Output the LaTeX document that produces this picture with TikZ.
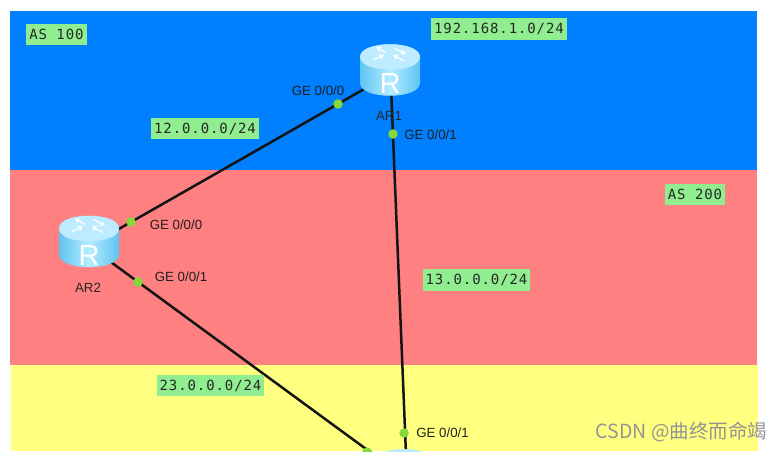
\documentclass[tikz,border=0pt]{standalone}
\usepackage{fontspec}
\setmainfont{Liberation Sans}
\newfontfamily\labelmono[LetterSpace=6.4]{DejaVu Sans Mono}
\newfontfamily\wmfont{Noto Sans CJK SC}
\usetikzlibrary{arrows.meta}
\definecolor{bandblue}{HTML}{0080FF}
\definecolor{bandred}{HTML}{FF8080}
\definecolor{bandyellow}{HTML}{FFFF80}
\definecolor{tagtgreen}{HTML}{90EE90}
\definecolor{portgreen}{HTML}{84D838}
\definecolor{routertop}{HTML}{BDEBFF}
\definecolor{routerdark}{HTML}{5FC4F2}
\definecolor{routerlight}{HTML}{B4ECFF}
\tikzset{
  x=1pt,y=-1pt,
  tag/.style={fill=tagtgreen,inner sep=0pt,font=\labelmono\fontsize{14}{14}\selectfont,text=black!85,anchor=center},
  portlabel/.style={inner sep=0pt,font=\fontsize{13.3}{14}\selectfont,text=black!88},
  hostname/.style={inner sep=0pt,font=\fontsize{13.3}{14}\selectfont,text=black!85},
  link/.style={line width=2.5pt,draw=black!92},
  portdot/.style={circle,fill=portgreen,inner sep=0pt,minimum size=9.5pt},
  hub/.style={inner sep=0pt,minimum size=0pt},
  chev/.style={draw=white,line width=1.3pt,-{Stealth[length=5pt,width=6pt]}},
  routerbody/.pic={
    \path[left color=routerdark,right color=routerdark,middle color=routerlight]
      (-30,-13) -- (-30,13) .. controls (-30,30) and (30,30) .. (30,13) -- (30,-13)
      .. controls (30,-30) and (-30,-30) .. (-30,-13) -- cycle;
    \path[fill=routertop]
      (-30,-13) .. controls (-30,4) and (30,4) .. (30,-13)
      .. controls (30,-30) and (-30,-30) .. (-30,-13) -- cycle;
  },
  routericon/.pic={
    \draw[chev] (-4,-17) -- (-14,-23);
    \draw[chev] (-17,-10) -- (-6,-15);
    \draw[chev] (4,-22) -- (16,-16);
    \draw[chev] (14,-9) -- (3,-15);
    \node[inner sep=0pt,text=white,font=\fontsize{29}{29}\selectfont] (letter) at (0,14) {R};
  },
}
\begin{document}
\begin{tikzpicture}
\useasboundingbox (0,0) rectangle (782,451);
\clip (0,0) rectangle (782,451);
\fill[white] (0,0) rectangle (782,451);
\fill[bandblue] (10,11) rectangle (757,170);
\fill[bandred] (10,170) rectangle (757,365);
\fill[bandyellow] (11,365) rectangle (758,451);

\node[hub] (ar1) at (390.5,74) {};
\node[hub] (ar2) at (89,246) {};
\node[hub] (ar3) at (407,479) {};

\draw[link] (ar1) -- (ar2);
\draw[link] (ar1) -- (ar3);
\draw[link] (ar2) -- (ar3);

\pic (rone) at (390,70) {routerbody};
\pic (ronei) at (390,70) {routericon};
\pic (rtwo) at (89,241.5) {routerbody};
\pic (rtwoi) at (89,241.5) {routericon};
\pic (rthree) at (404,475) {routerbody};

\node[portdot] (p1) at (338,104) {};
\node[portdot] (p2) at (393,134) {};
\node[portdot] (p3) at (131,222) {};
\node[portdot] (p4) at (138,282) {};
\node[portdot] (p5) at (404,433) {};
\node[portdot] (p6) at (367,452) {};

\node[portlabel] (l1) at (318,91) {GE 0/0/0};
\node[portlabel] (l2) at (430.5,135) {GE 0/0/1};
\node[portlabel] (l3) at (176,225) {GE 0/0/0};
\node[portlabel] (l4) at (181,277) {GE 0/0/1};
\node[portlabel] (l5) at (442.5,433) {GE 0/0/1};
\node[hostname] (n1) at (389,116) {AR1};
\node[hostname] (n2) at (88,288) {AR2};

\node[tag,minimum width=61pt,minimum height=21pt] (t1) at (56.5,34.5) {AS 100};
\node[tag,minimum width=136pt,minimum height=22pt] (t2) at (499,29) {192.168.1.0/24};
\node[tag,minimum width=108pt,minimum height=21pt] (t3) at (205,128.5) {12.0.0.0/24};
\node[tag,minimum width=60pt,minimum height=21pt] (t4) at (695,194.5) {AS 200};
\node[tag,minimum width=107pt,minimum height=22pt] (t5) at (476.5,280) {13.0.0.0/24};
\node[tag,minimum width=107pt,minimum height=21pt] (t6) at (210.5,385.5) {23.0.0.0/24};

\node[inner sep=0pt,text=black!42,font=\wmfont\fontsize{19.5}{20}\selectfont] (wm) at (681.5,432) {CSDN @曲终而命竭};
\end{tikzpicture}
\end{document}
